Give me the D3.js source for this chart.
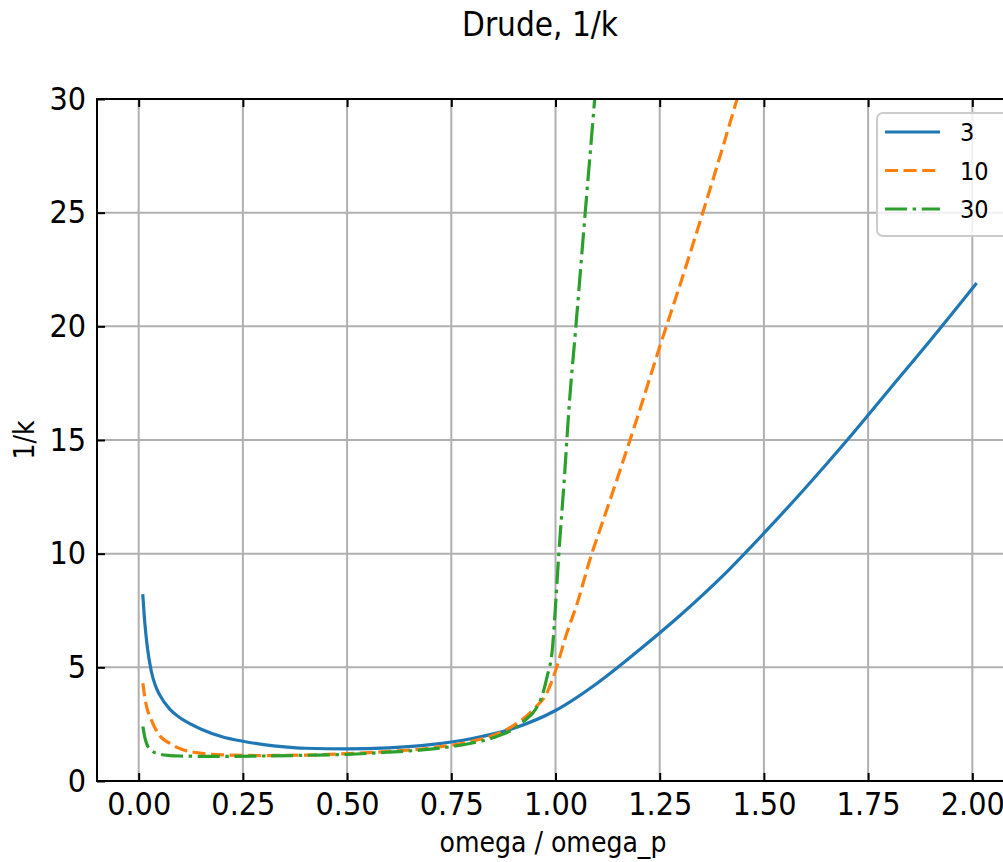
<!DOCTYPE html>
<html>
<head>
<meta charset="utf-8">
<script src="https://cdn.jsdelivr.net/npm/d3@7"></script>
<style>
  body { margin: 0; background: #fff; }
  text { font-family: "DejaVu Sans", sans-serif; font-stretch: condensed; fill: #000; }
</style>
</head>
<body>
<div id="scene"></div>
<script>
// values: omega / omega_p and 1/k for each damping ratio
var seriesNames = ["3", "10", "30"];

var omega3 = [0.01, 0.015, 0.02, 0.03, 0.04, 0.05, 0.075, 0.1, 0.125, 0.15, 0.2, 0.25, 0.3, 0.35, 0.4, 0.5, 0.6, 0.7, 0.8, 0.9, 1.0, 1.1, 1.2, 1.3, 1.4, 1.5, 1.6, 1.7, 1.8, 1.9, 2.008];
var invk3  = [8.15, 6.9, 6.0, 4.85, 4.2, 3.8, 3.15, 2.77, 2.5, 2.28, 1.95, 1.75, 1.6, 1.5, 1.44, 1.41, 1.46, 1.6, 1.87, 2.32, 3.1, 4.3, 5.75, 7.3, 9.0, 10.9, 12.9, 15.0, 17.2, 19.4, 21.85];

var omega10 = [0.01, 0.015, 0.02, 0.03, 0.05, 0.075, 0.1, 0.15, 0.2, 0.3, 0.4, 0.5, 0.6, 0.7, 0.8, 0.85, 0.9, 0.95, 0.98, 1.0, 1.027, 1.05, 1.087, 1.1, 1.15, 1.2, 1.25, 1.3, 1.35, 1.4, 1.45, 1.5];
var invk10  = [4.3, 3.65, 3.2, 2.7, 2.0, 1.65, 1.42, 1.22, 1.15, 1.12, 1.14, 1.2, 1.3, 1.45, 1.75, 2.0, 2.45, 3.2, 3.9, 4.85, 6.5, 7.7, 10.0, 10.7, 13.4, 16.2, 19.1, 21.9, 24.8, 27.8, 30.9, 34.0];

var omega30 = [0.01, 0.015, 0.02, 0.03, 0.05, 0.075, 0.1, 0.2, 0.3, 0.4, 0.5, 0.6, 0.7, 0.8, 0.85, 0.9, 0.925, 0.95, 0.965, 0.98, 0.993, 1.0, 1.008, 1.02, 1.034, 1.048, 1.069, 1.094, 1.12];
var invk30  = [2.4, 1.9, 1.6, 1.35, 1.18, 1.12, 1.1, 1.08, 1.1, 1.13, 1.17, 1.27, 1.4, 1.67, 1.9, 2.3, 2.65, 3.1, 3.6, 4.6, 5.9, 7.7, 10.0, 13.0, 16.8, 19.8, 24.5, 30.0, 36.0];

var xTicks = [0, 0.25, 0.5, 0.75, 1.0, 1.25, 1.5, 1.75, 2.0];
var yTicks = [0, 5, 10, 15, 20, 25, 30];

var colors = ["#1f77b4", "#ff7f0e", "#2ca02c"];
var dashes = [null, "13,5.6", "22,5.6,3.5,5.6"];

var W = 1003, H = 862;
var m = { left: 97, top: 99, right: 1014, bottom: 781 };

var svg = d3.select("#scene").append("svg")
  .attr("width", W).attr("height", H)
  .style("display", "block");

svg.append("rect").attr("width", W).attr("height", H).attr("fill", "#fff");

var x = d3.scaleLinear().domain([-0.1, 2.1]).range([m.left, m.right]);
var y = d3.scaleLinear().domain([0, 30]).range([m.bottom, m.top]);

// grid
var grid = svg.append("g");
grid.selectAll(".gx").data(xTicks).enter().append("line")
  .attr("x1", function(d) { return x(d); }).attr("x2", function(d) { return x(d); })
  .attr("y1", m.top).attr("y2", m.bottom)
  .attr("stroke", "#b0b0b0").attr("stroke-width", 2);
grid.selectAll(".gy").data(yTicks).enter().append("line")
  .attr("x1", m.left).attr("x2", m.right)
  .attr("y1", function(d) { return y(d); }).attr("y2", function(d) { return y(d); })
  .attr("stroke", "#b0b0b0").attr("stroke-width", 2);

// curves
svg.append("clipPath").attr("id", "plotClip").append("rect")
  .attr("x", m.left).attr("y", m.top)
  .attr("width", m.right - m.left).attr("height", m.bottom - m.top);

var line = d3.line()
  .x(function(d) { return x(d[0]); })
  .y(function(d) { return y(d[1]); })
  .curve(d3.curveMonotoneX);

var series = [d3.zip(omega3, invk3), d3.zip(omega10, invk10), d3.zip(omega30, invk30)];

var curves = svg.append("g").attr("clip-path", "url(#plotClip)");
series.forEach(function(s, i) {
  curves.append("path")
    .attr("d", line(s))
    .attr("fill", "none")
    .attr("stroke", colors[i])
    .attr("stroke-width", 3.2)
    .attr("stroke-linecap", i === 0 ? "square" : "butt")
    .attr("stroke-dasharray", dashes[i]);
});

// axes, ticks pointing inward
var xAxis = svg.append("g").attr("transform", "translate(0," + m.bottom + ")")
  .call(d3.axisBottom(x).tickValues(xTicks).tickFormat(d3.format(".2f"))
    .tickSizeInner(-8).tickSizeOuter(0).tickPadding(11));
var xTop = svg.append("g").attr("transform", "translate(0," + m.top + ")")
  .call(d3.axisTop(x).tickValues(xTicks).tickFormat("")
    .tickSizeInner(-8).tickSizeOuter(0));
var yAxis = svg.append("g").attr("transform", "translate(" + m.left + ",0)")
  .call(d3.axisLeft(y).tickValues(yTicks)
    .tickSizeInner(-8).tickSizeOuter(0).tickPadding(11));
var yRight = svg.append("g").attr("transform", "translate(" + m.right + ",0)")
  .call(d3.axisRight(y).tickValues(yTicks).tickFormat("")
    .tickSizeInner(-8).tickSizeOuter(0));

[xAxis, xTop, yAxis, yRight].forEach(function(a) {
  a.select(".domain").remove();
  a.selectAll(".tick line").attr("stroke", "#000").attr("stroke-width", 2);
  a.selectAll("text").attr("font-size", 32).attr("font-family", null).attr("fill", "#000");
});

// frame
svg.append("rect")
  .attr("x", m.left).attr("y", m.top)
  .attr("width", m.right - m.left).attr("height", m.bottom - m.top)
  .attr("fill", "none").attr("stroke", "#000").attr("stroke-width", 2);

// labels
svg.append("text").attr("x", 540).attr("y", 36)
  .attr("text-anchor", "middle").attr("font-size", 33).text("Drude, 1/k");
svg.append("text").attr("x", 553).attr("y", 852)
  .attr("text-anchor", "middle").attr("font-size", 28).text("omega / omega_p");
svg.append("text").attr("transform", "translate(34,440) rotate(-90)")
  .attr("text-anchor", "middle").attr("font-size", 28).text("1/k");

// legend
var lg = svg.append("g").attr("transform", "translate(877,113)");
lg.append("rect").attr("width", 140).attr("height", 123).attr("rx", 6)
  .attr("fill", "#fff").attr("fill-opacity", 0.8)
  .attr("stroke", "#cccccc").attr("stroke-width", 2);
seriesNames.forEach(function(name, i) {
  var yy = 19 + i * 38.5;
  lg.append("line").attr("x1", 8).attr("x2", 63).attr("y1", yy).attr("y2", yy)
    .attr("stroke", colors[i]).attr("stroke-width", 3.2)
    .attr("stroke-dasharray", dashes[i]);
  lg.append("text").attr("x", 83).attr("y", yy).attr("dy", "0.36em")
    .attr("font-size", 25).text(name);
});
</script>
</body>
</html>
